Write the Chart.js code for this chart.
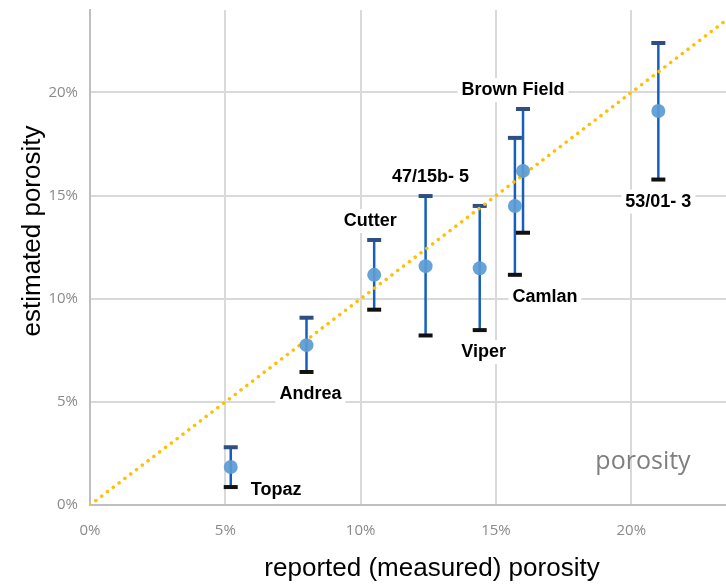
<!DOCTYPE html>
<html>
<head>
<meta charset="utf-8">
<script src="https://cdn.jsdelivr.net/npm/chart.js@4.4.1/dist/chart.umd.min.js"></script>
<style>
  html, body { margin: 0; padding: 0; background: #fff; overflow: hidden; }
  #wrap { width: 726px; height: 586px; overflow: hidden; }
  canvas { display: block; }
</style>
</head>
<body>
<div id="wrap"><canvas id="chart" width="733" height="586"></canvas></div>
<script>
// field names and values (fractions)
const fields   = ['Topaz', 'Andrea', 'Cutter', '47/15b- 5', 'Viper', 'Camlan', 'Brown Field', '53/01- 3'];
const reported = [0.052, 0.080, 0.105, 0.124, 0.144, 0.157, 0.160, 0.210];
const estimated = [0.0184, 0.0775, 0.1116, 0.1158, 0.1148, 0.1450, 0.1620, 0.1910];
const upper    = [0.0280, 0.0908, 0.1285, 0.1498, 0.1450, 0.1780, 0.1920, 0.2240];
const lower    = [0.0087, 0.0645, 0.0947, 0.0822, 0.0848, 0.1116, 0.1320, 0.1578];
const xTicks = [0, 0.05, 0.10, 0.15, 0.20];

// where each name sits relative to its error bar
const labelSide = { 'Topaz': 'right', 'Andrea': 'below', 'Cutter': 'above', '47/15b- 5': 'above',
  'Viper': 'below', 'Camlan': 'below', 'Brown Field': 'above', '53/01- 3': 'below' };
const labelShift = { 'Camlan': 30, 'Brown Field': -10, 'Cutter': -4, 'Andrea': 4, '47/15b- 5': 5, 'Viper': 4 };

const points = reported.map((x, i) => ({ x: x, y: estimated[i] }));

// error bars, drawn under the markers
const errorBars = {
  id: 'errorBars',
  beforeDatasetsDraw(chart) {
    const ctx = chart.ctx;
    const xs = chart.scales.x, ys = chart.scales.y;
    ctx.save();
    reported.forEach((r, i) => {
      const px = xs.getPixelForValue(r);
      const top = ys.getPixelForValue(upper[i]);
      const bot = ys.getPixelForValue(lower[i]);
      ctx.strokeStyle = '#1560bd';
      ctx.lineWidth = 2.5;
      ctx.beginPath();
      ctx.moveTo(px, top);
      ctx.lineTo(px, bot);
      ctx.stroke();
      ctx.lineWidth = 4;
      ctx.strokeStyle = '#2f4f82';
      ctx.beginPath();
      ctx.moveTo(px - 7, top);
      ctx.lineTo(px + 7, top);
      ctx.stroke();
      ctx.strokeStyle = '#111111';
      ctx.beginPath();
      ctx.moveTo(px - 7, bot);
      ctx.lineTo(px + 7, bot);
      ctx.stroke();
    });
    ctx.restore();
  }
};

// field names with a white box behind them, series name and axis titles
const fieldLabels = {
  id: 'fieldLabels',
  afterDatasetsDraw(chart) {
    const ctx = chart.ctx;
    const xs = chart.scales.x, ys = chart.scales.y;
    ctx.save();
    ctx.font = 'bold 18px "Liberation Sans", Arial, sans-serif';
    ctx.textBaseline = 'middle';
    ctx.textAlign = 'center';
    fields.forEach((name, i) => {
      const px = xs.getPixelForValue(reported[i]);
      const w = ctx.measureText(name).width;
      let cx = px + (labelShift[name] || 0), cy;
      const side = labelSide[name];
      if (side === 'above') cy = ys.getPixelForValue(upper[i]) - 19;
      else if (side === 'below') cy = ys.getPixelForValue(lower[i]) + 22;
      else { cx = px + 20 + w / 2; cy = ys.getPixelForValue(lower[i]) + 3; }
      ctx.fillStyle = '#ffffff';
      ctx.fillRect(cx - w / 2 - 4, cy - 12, w + 8, 24);
      ctx.fillStyle = '#000000';
      ctx.fillText(name, cx, cy);
    });
    ctx.font = '25px "Open Sans", sans-serif';
    ctx.fillStyle = '#7f7f7f';
    ctx.fillText('porosity', 643, 462);

    ctx.fillStyle = '#000000';
    ctx.font = '26px "Liberation Sans", Arial, sans-serif';
    ctx.fillText('reported (measured) porosity', 432, 569);
    ctx.translate(33, 231);
    ctx.rotate(-Math.PI / 2);
    ctx.fillText('estimated porosity', 0, 0);
    ctx.restore();
  }
};

const pct = v => Math.round(v * 100) + '%';

new Chart(document.getElementById('chart'), {
  type: 'scatter',
  data: {
    datasets: [
      {
        label: 'porosity',
        data: points,
        pointRadius: 7,
        pointHoverRadius: 7,
        pointBackgroundColor: 'rgba(91,155,213,0.92)',
        pointBorderWidth: 0,
        order: 1
      },
      {
        type: 'line',
        label: '1:1',
        data: [{ x: 0, y: 0 }, { x: 0.24, y: 0.24 }],
        borderColor: '#ffc000',
        borderWidth: 3.5,
        borderDash: [0.1, 7.2],
        borderCapStyle: 'round',
        pointRadius: 0,
        fill: false,
        order: 2
      }
    ]
  },
  plugins: [errorBars, fieldLabels],
  options: {
    responsive: false,
    animation: false,
    layout: { padding: { top: 10, right: 0, left: 0, bottom: 0 } },
    plugins: { legend: { display: false }, tooltip: { enabled: false } },
    scales: {
      x: {
        type: 'linear',
        min: 0,
        max: 0.235,
        afterFit: s => { s.height = 81; s.paddingLeft = 0; s.paddingRight = 0; },
        afterBuildTicks: s => { s.ticks = xTicks.map(v => ({ value: v })); },
        ticks: {
          padding: 17,
          color: '#8a8a8a',
          font: { family: '"Open Sans", sans-serif', size: 15 },
          callback: pct
        },
        grid: { color: '#d9d9d9', lineWidth: 2, drawTicks: false },
        border: { color: '#bfbfbf', width: 2 }
      },
      y: {
        type: 'linear',
        min: 0,
        max: 0.24,
        afterFit: s => { s.width = 90; s.paddingTop = 0; s.paddingBottom = 0; },
        ticks: {
          stepSize: 0.05,
          includeBounds: false,
          padding: 12,
          color: '#8a8a8a',
          font: { family: '"Open Sans", sans-serif', size: 15 },
          callback: pct
        },
        grid: { color: '#d9d9d9', lineWidth: 2, drawTicks: false },
        border: { color: '#bfbfbf', width: 2 }
      }
    }
  }
});
</script>
</body>
</html>
